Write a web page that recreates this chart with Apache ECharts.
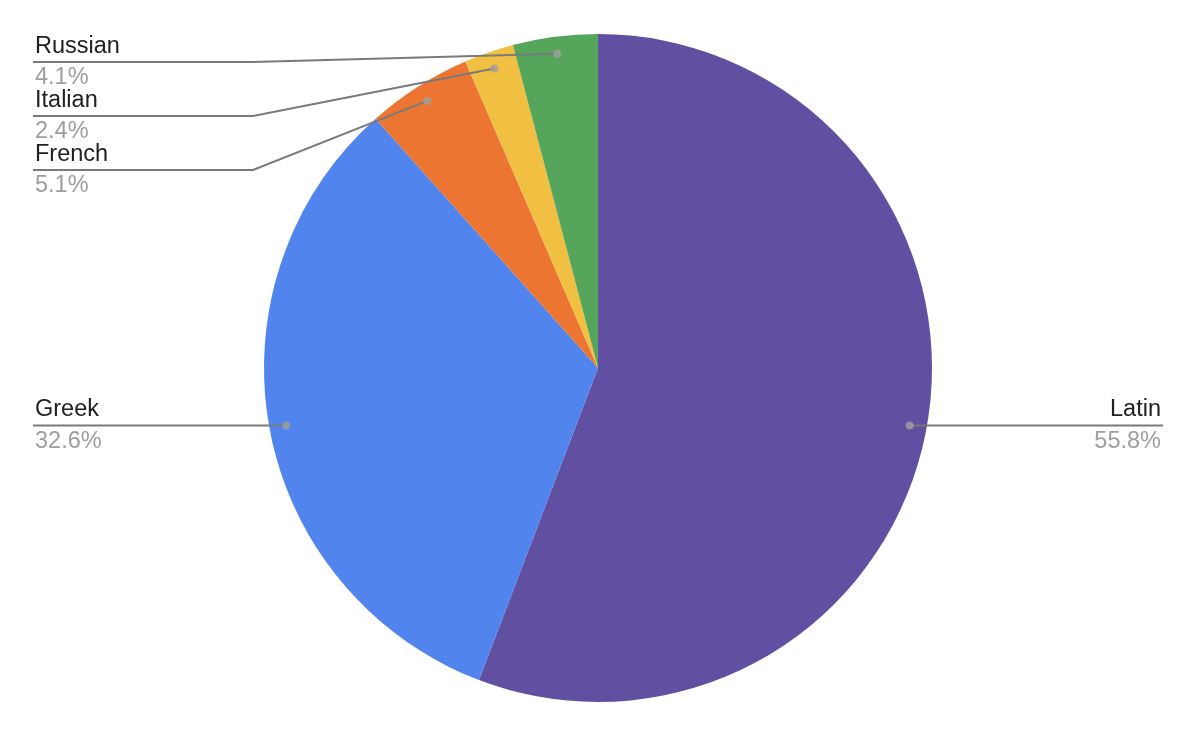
<!DOCTYPE html>
<html>
<head>
<meta charset="utf-8">
<style>
  html, body { margin: 0; padding: 0; background: #ffffff; }
  #chart { width: 1196px; height: 736px; }
</style>
<script src="https://cdn.jsdelivr.net/npm/echarts@6/dist/echarts.min.js"></script>
</head>
<body>
<div id="chart"></div>
<script>
// ---- data ----
const categories = ['Latin', 'Greek', 'French', 'Italian', 'Russian'];
const values = [55.8, 32.6, 5.1, 2.4, 4.1];
const colors = ['#614FA1', '#5184EC', '#EC7631', '#F1BF42', '#55A55B'];

// ---- layout / style ----
const W = 1196, H = 736;
const pieR = 334;
const dotRatio = 0.949;   // leader-line dots sit just inside the rim
const edgeLeft = 35, edgeRight = W - 35;
const bendLeft = 253, bendRight = W - 253;
const rowGap = 54, firstRowY = 62;
const fontFam = '"Liberation Sans", Arial, sans-serif';

const total = values.reduce((a, b) => a + b, 0);
const cx = W / 2, cy = H / 2;

// angle (in % of the circle) of each slice's middle, clockwise from 12 o'clock
const midPct = [];
let acc = 0;
values.forEach(v => { midPct.push((acc + v / 2) / total * 100); acc += v; });

// dot positions (for label-line geometry only; dots themselves drawn via polar scatter)
const dots = midPct.map(p => {
  const a = p / 100 * Math.PI * 2;
  return [cx + pieR * dotRatio * Math.sin(a), cy - pieR * dotRatio * Math.cos(a)];
});

// stack labels on each side so they do not overlap
const labelY = new Array(values.length);
['left', 'right'].forEach(side => {
  const idx = dots.map((d, i) => i).filter(i => (side === 'left') === (dots[i][0] < cx));
  idx.sort((a, b) => dots[a][1] - dots[b][1]);
  let prev = -Infinity;
  idx.forEach(i => {
    let y = dots[i][1];
    if (y < firstRowY) y = firstRowY;
    if (y < prev + rowGap) y = prev + rowGap;
    labelY[i] = y;
    prev = y;
  });
});

const pieData = categories.map((c, i) => ({ name: c, value: values[i], itemStyle: { color: colors[i] } }));

const chart = echarts.init(document.getElementById('chart'), null, { renderer: 'canvas' });

chart.setOption({
  animation: false,
  backgroundColor: '#ffffff',
  polar: { center: ['50%', '50%'], radius: pieR },
  angleAxis: { type: 'value', min: 0, max: 100, startAngle: 90, clockwise: true, show: false },
  radiusAxis: { type: 'value', min: 0, max: 1, show: false },
  series: [
    {
      // coloured slices
      type: 'pie',
      z: 1,
      center: ['50%', '50%'],
      radius: pieR,
      startAngle: 90,
      clockwise: true,
      silent: true,
      data: pieData,
      label: { show: false },
      labelLine: { show: false }
    },
    {
      // same slices, transparent, carrying labels and leader lines on top
      type: 'pie',
      z: 4,
      center: ['50%', '50%'],
      radius: pieR,
      startAngle: 90,
      clockwise: true,
      silent: true,
      data: pieData.map(d => ({ name: d.name, value: d.value, itemStyle: { color: 'rgba(0,0,0,0)' } })),
      label: {
        show: true,
        position: 'outside',
        formatter: '{n|{b}}\n{p|{c}%}',
        rich: {
          n: { fontSize: 23.5, color: '#202020', lineHeight: 32, fontFamily: fontFam },
          p: { fontSize: 23.5, color: '#9e9e9e', lineHeight: 31, fontFamily: fontFam }
        }
      },
      labelLine: {
        show: true,
        length: 10,
        length2: 10,
        lineStyle: { color: '#7a7a7a', width: 2 }
      },
      labelLayout: function (params) {
        const i = params.dataIndex;
        const d = dots[i];
        const isLeft = d[0] < cx;
        const y = labelY[i];
        const bendX = isLeft ? bendLeft : bendRight;
        const endX = isLeft ? edgeLeft - 2 : edgeRight + 2;
        const straight = Math.abs(y - d[1]) < 1;
        const pts = straight
          ? [[d[0], y], [(d[0] + endX) / 2, y], [endX, y]]
          : [[d[0], d[1]], [bendX, y], [endX, y]];
        return {
          x: isLeft ? edgeLeft : edgeRight,
          y: y,
          align: isLeft ? 'left' : 'right',
          verticalAlign: 'middle',
          labelLinePoints: pts
        };
      }
    },
    {
      type: 'scatter',
      coordinateSystem: 'polar',
      silent: true,
      z: 6,
      symbol: 'circle',
      symbolSize: 8,
      itemStyle: { color: '#a0a0a0' },
      data: midPct.map(p => [dotRatio, p])
    }
  ]
});
</script>
</body>
</html>
